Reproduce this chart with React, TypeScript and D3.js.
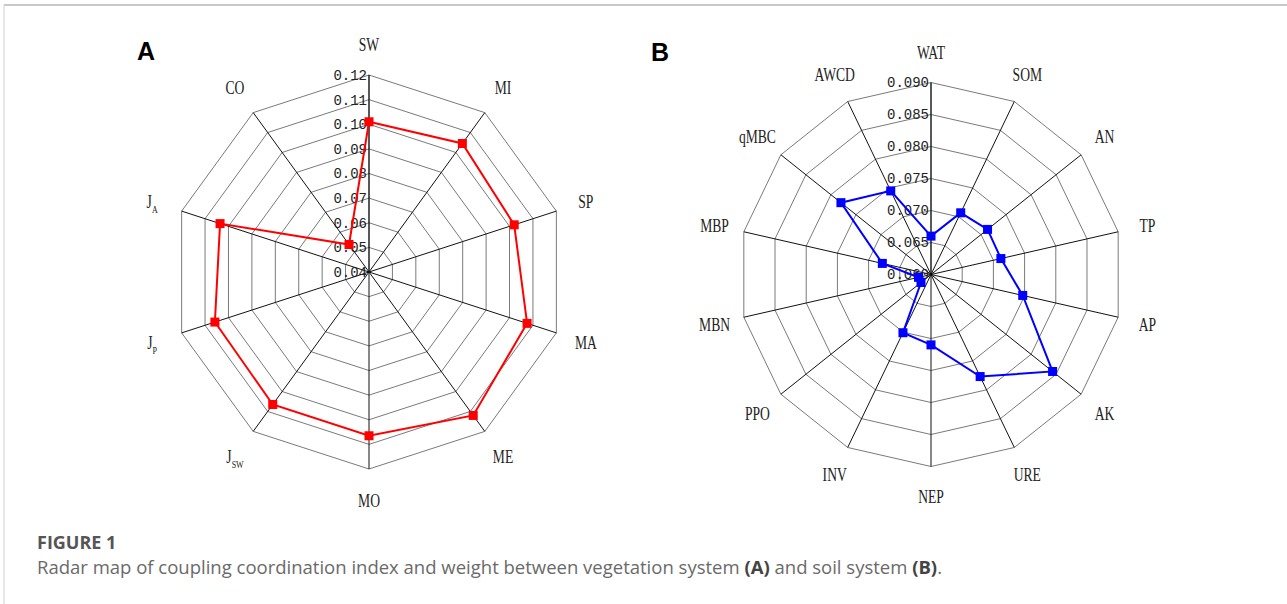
import { useEffect, useRef } from "react"
import * as d3 from "d3"

// panel A: vegetation system
const vegAxes = ["SW", "MI", "SP", "MA", "ME", "MO", "J|SW", "J|P", "J|A", "CO"]
const vegWeights = [0.101, 0.1045, 0.102, 0.1075, 0.112, 0.1065, 0.1065, 0.1058, 0.1036, 0.0538]
const vegTicks = [0.04, 0.05, 0.06, 0.07, 0.08, 0.09, 0.10, 0.11, 0.12]
const vegTickLabels = ["0.04", "0.05", "0.06", "0.07", "0.08", "0.09", "0.10", "0.11", "0.12"]

// panel B: soil system
const soilAxes = ["WAT", "SOM", "AN", "TP", "AP", "AK", "URE", "NEP", "INV", "PPO", "MBN", "MBP", "qMBC", "AWCD"]
const soilWeights = [0.066, 0.0707, 0.0713, 0.0712, 0.0747, 0.0843, 0.0777, 0.071, 0.0701, 0.062, 0.062, 0.0678, 0.078, 0.0745]
const soilTicks = [0.060, 0.065, 0.070, 0.075, 0.080, 0.085, 0.090]
const soilTickLabels = ["0.060", "0.065", "0.070", "0.075", "0.080", "0.085", "0.090"]

type RadarProps = {
    cx: number
    cy: number
    radius: number
    labelRadius: number
    axes: string[]
    values: number[]
    ticks: number[]
    tickLabels: string[]
    color: string
}

const drawRadar = (svg: d3.Selection<SVGGElement, unknown, null, undefined>, p: RadarProps) => {
    const n = p.axes.length
    const r = d3.scaleLinear()
        .domain([p.ticks[0], p.ticks[p.ticks.length - 1]])
        .range([0, p.radius])
    const angle = (i: number) => i * 2 * Math.PI / n

    const g = svg.append("g").attr("transform", `translate(${p.cx},${p.cy})`)

    const ring = d3.lineRadial<number>()
        .angle((_, i) => angle(i))
        .radius(d => d)
        .curve(d3.curveLinearClosed)

    // grid rings
    g.selectAll("path.ring")
        .data(p.ticks.slice(1))
        .enter()
        .append("path")
        .attr("class", "ring")
        .attr("d", t => ring(d3.range(n).map(() => r(t))))
        .attr("fill", "none")
        .attr("stroke", "#7a7a7a")
        .attr("stroke-width", 1)

    // spokes
    g.selectAll("line.spoke")
        .data(d3.range(n))
        .enter()
        .append("line")
        .attr("x1", 0)
        .attr("y1", 0)
        .attr("x2", i => p.radius * Math.sin(angle(i)))
        .attr("y2", i => -p.radius * Math.cos(angle(i)))
        .attr("stroke", "#111")
        .attr("stroke-width", i => (i === 0 ? 1.4 : 1))

    // tick labels along the top spoke
    g.selectAll("text.tick")
        .data(p.ticks)
        .enter()
        .append("text")
        .attr("x", -2)
        .attr("y", t => -r(t))
        .attr("dy", "0.35em")
        .attr("text-anchor", "end")
        .attr("font-family", "'Liberation Mono', monospace")
        .attr("font-size", 14)
        .attr("fill", "#222")
        .text((_, i) => p.tickLabels[i])

    // axis labels
    const lab = g.selectAll("g.lab")
        .data(p.axes)
        .enter()
        .append("g")
        .attr("transform", (_, i) =>
            `translate(${p.labelRadius * Math.sin(angle(i))},${-p.labelRadius * Math.cos(angle(i))}) scale(0.8,1.12)`)
    const txt = lab.append("text")
        .attr("text-anchor", "middle")
        .attr("dy", "0.35em")
        .attr("font-family", "'Liberation Serif', serif")
        .attr("font-size", 17)
        .attr("fill", "#222")
    txt.append("tspan").text(d => d.split("|")[0])
    txt.filter(d => d.includes("|"))
        .append("tspan")
        .attr("font-size", 10)
        .attr("dy", 4)
        .text(d => d.split("|")[1])

    // data polygon
    const shape = d3.lineRadial<number>()
        .angle((_, i) => angle(i))
        .radius(d => r(d))
        .curve(d3.curveLinearClosed)

    g.append("path")
        .attr("d", shape(p.values))
        .attr("fill", "none")
        .attr("stroke", p.color)
        .attr("stroke-width", 2)

    g.selectAll("rect.pt")
        .data(p.values)
        .enter()
        .append("rect")
        .attr("x", (d, i) => r(d) * Math.sin(angle(i)) - 4.5)
        .attr("y", (d, i) => -r(d) * Math.cos(angle(i)) - 4.5)
        .attr("width", 9)
        .attr("height", 9)
        .attr("fill", p.color)
}

const App = () => {
    const ref = useRef<SVGSVGElement>(null)

    useEffect(() => {
        const root = d3.select(ref.current)
        root.selectAll("*").remove()
        const svg = root.append("g")

        // frame lines
        svg.append("line").attr("x1", 4).attr("x2", 1287).attr("y1", 5).attr("y2", 5)
            .attr("stroke", "#c8c8c8").attr("stroke-width", 2)
        svg.append("line").attr("x1", 4).attr("x2", 4).attr("y1", 5).attr("y2", 604)
            .attr("stroke", "#d0d0d0").attr("stroke-width", 1)

        drawRadar(svg, {
            cx: 369, cy: 272, radius: 197, labelRadius: 228,
            axes: vegAxes, values: vegWeights, ticks: vegTicks, tickLabels: vegTickLabels,
            color: "#ff0000"
        })
        drawRadar(svg, {
            cx: 931, cy: 274.5, radius: 192, labelRadius: 222,
            axes: soilAxes, values: soilWeights, ticks: soilTicks, tickLabels: soilTickLabels,
            color: "#0000ff"
        })

        // panel letters
        svg.append("text").attr("x", 146).attr("y", 60).attr("text-anchor", "middle")
            .attr("font-family", "'Liberation Sans', Arial, sans-serif").attr("font-weight", "bold")
            .attr("font-size", 25).text("A")
        svg.append("text").attr("x", 660).attr("y", 61).attr("text-anchor", "middle")
            .attr("font-family", "'Liberation Sans', Arial, sans-serif").attr("font-weight", "bold")
            .attr("font-size", 25).text("B")

        // caption
        svg.append("text").attr("x", 37).attr("y", 549)
            .attr("font-family", "'Open Sans', sans-serif").attr("font-weight", "bold")
            .attr("font-size", 18).attr("fill", "#555").text("FIGURE 1")
        const cap = svg.append("text").attr("x", 37).attr("y", 574)
            .attr("font-family", "'Open Sans', sans-serif")
            .attr("font-size", 18.5).attr("fill", "#6a6a6a")
        cap.append("tspan").text("Radar map of coupling coordination index and weight between vegetation system ")
        cap.append("tspan").attr("font-weight", "bold").attr("fill", "#444").text("(A)")
        cap.append("tspan").text(" and soil system ")
        cap.append("tspan").attr("font-weight", "bold").attr("fill", "#444").text("(B)")
        cap.append("tspan").text(".")
    }, [])

    return (
        <div>
            <style>{`body{margin:0;background:#fff}`}</style>
            <svg ref={ref} width={1287} height={604} style={{ display: "block" }}></svg>
        </div>
    )
}

export default App
